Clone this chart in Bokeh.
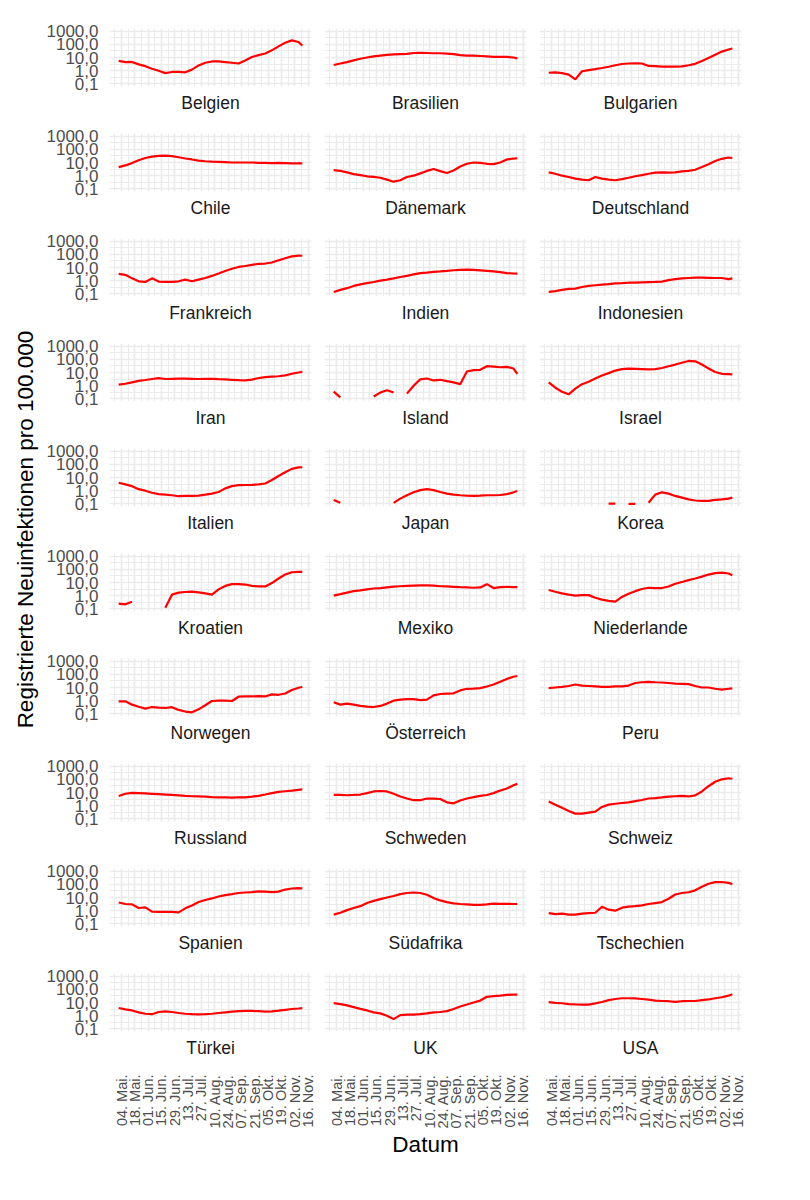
import math
import pandas as pd
from bokeh.plotting import figure
from bokeh.layouts import row, column
from bokeh.models import Range1d, FixedTicker, Grid, LinearAxis, LogAxis, Title, AllLabels
from bokeh.core.properties import value
from bokeh.embed import file_html
from bokeh.resources import INLINE

nan = float("nan")

# weekly samples (daily new cases per 100,000)
dates = pd.date_range("2020-05-01", "2020-11-06", freq="7D").append(pd.DatetimeIndex(["2020-11-10"]))
tick_dates = pd.date_range("2020-05-04", "2020-11-16", freq="14D")
tick_labels = ["04. Mai.", "18. Mai.", "01. Jun.", "15. Jun.", "29. Jun.", "13. Jul.", "27. Jul.",
               "10. Aug.", "24. Aug.", "07. Sep.", "21. Sep.", "05. Okt.", "19. Okt.", "02. Nov.", "16. Nov."]
minor_dates = pd.date_range("2020-04-27", "2020-11-23", freq="14D")
y_ticks = [0.1, 1, 10, 100, 1000]
y_tick_labels = ["0,1", "1,0", "10,0", "100,0", "1000,0"]
y_minor = [10 ** -0.5, 10 ** 0.5, 10 ** 1.5, 10 ** 2.5]

countries = ["Belgien", "Brasilien", "Bulgarien", "Chile", "Dänemark", "Deutschland",
             "Frankreich", "Indien", "Indonesien", "Iran", "Island", "Israel",
             "Italien", "Japan", "Korea", "Kroatien", "Mexiko", "Niederlande",
             "Norwegen", "Österreich", "Peru", "Russland", "Schweden", "Schweiz",
             "Spanien", "Südafrika", "Tschechien", "Türkei", "UK", "USA"]

belgien = [5.5, 4.5, 4.6, 3.0, 2.2, 1.4, 1.0, 0.65, 0.8, 0.8, 0.75, 1.2, 2.5, 4.0, 5.0, 5.0, 4.5, 4.0, 3.5, 6.0, 11, 15, 20, 35, 70, 130, 200, 150, 80]
brasilien = [2.7, 3.5, 4.5, 6, 8, 10, 12, 14, 16, 17, 18, 19, 22, 23, 22, 21, 21, 20, 18, 15, 14, 14, 13, 12, 11, 11, 11, 10, 8.5]
bulgarien = [0.7, 0.75, 0.65, 0.5, 0.22, 0.9, 1.1, 1.3, 1.6, 2.0, 2.6, 3.2, 3.5, 3.6, 3.5, 2.3, 2.2, 2.0, 2.0, 2.0, 2.1, 2.6, 3.3, 5.5, 9, 16, 28, 40, 48]
chile = [4.5, 6, 9, 15, 22, 28, 32, 33, 30, 25, 20, 17, 14, 12.5, 11.5, 11, 10.5, 10, 10, 10, 10, 9.5, 9.5, 9, 9.5, 9, 8.5, 8.5, 8.5]
daenemark = [2.6, 2.3, 1.8, 1.3, 1.1, 0.9, 0.8, 0.7, 0.5, 0.35, 0.45, 0.8, 1.0, 1.5, 2.3, 3.2, 2.2, 1.6, 2.5, 5, 8, 10, 9.5, 8, 7.5, 10, 17, 20, 21]
deutschland = [1.8, 1.4, 1.0, 0.8, 0.6, 0.5, 0.45, 0.8, 0.6, 0.5, 0.45, 0.55, 0.7, 0.9, 1.1, 1.4, 1.7, 1.8, 1.7, 1.8, 2.1, 2.3, 2.8, 4.5, 7.5, 13, 19, 24, 22]
frankreich = [3.3, 2.8, 1.5, 0.9, 0.8, 1.5, 0.85, 0.8, 0.8, 0.9, 1.2, 0.9, 1.2, 1.6, 2.3, 3.5, 5.5, 8, 11, 13, 16, 19, 20, 24, 35, 50, 70, 80, 78]
indien = [0.14, 0.2, 0.27, 0.4, 0.52, 0.65, 0.8, 1.0, 1.2, 1.5, 1.9, 2.3, 3.0, 3.7, 4.1, 4.6, 5.0, 5.5, 6.2, 6.7, 6.8, 6.5, 6.0, 5.5, 5.0, 4.4, 3.8, 3.5, 3.4]
indonesien = [0.14, 0.16, 0.2, 0.24, 0.25, 0.33, 0.4, 0.45, 0.5, 0.55, 0.62, 0.65, 0.7, 0.72, 0.75, 0.78, 0.8, 0.85, 1.1, 1.3, 1.5, 1.6, 1.7, 1.7, 1.65, 1.6, 1.6, 1.3, 1.5]
iran = [1.2, 1.4, 1.8, 2.3, 2.7, 3.2, 3.7, 3.2, 3.3, 3.4, 3.4, 3.3, 3.2, 3.3, 3.3, 3.1, 3.0, 2.8, 2.6, 2.5, 2.9, 3.8, 4.4, 4.8, 5.2, 6, 8, 10, 11]
island = [0.35, 0.13, nan, nan, nan, nan, 0.15, 0.3, 0.45, 0.3, nan, 0.25, 1.0, 3.0, 3.5, 2.5, 2.8, 2.2, 1.8, 1.3, 12, 15, 16, 30, 28, 25, 27, 20, 8]
israel = [1.8, 0.7, 0.35, 0.22, 0.6, 1.3, 2.0, 3.5, 6, 9, 14, 18, 20, 19, 18, 17, 18, 22, 30, 40, 55, 75, 70, 40, 20, 11, 8, 7.5, 7.2]
italien = [4, 3, 2.2, 1.3, 1.0, 0.7, 0.55, 0.5, 0.45, 0.38, 0.4, 0.4, 0.42, 0.5, 0.6, 0.8, 1.5, 2.2, 2.6, 2.7, 2.8, 3.0, 3.5, 6.5, 13, 25, 45, 58, 60]
japan = [0.2, 0.12, nan, nan, nan, nan, nan, nan, nan, 0.12, 0.25, 0.45, 0.75, 1.1, 1.3, 1.1, 0.8, 0.6, 0.5, 0.45, 0.42, 0.4, 0.42, 0.45, 0.45, 0.47, 0.55, 0.75, 0.95]
korea = [nan, nan, nan, nan, nan, nan, nan, nan, nan, 0.105, 0.105, nan, 0.1, 0.1, nan, 0.12, 0.5, 0.75, 0.6, 0.4, 0.3, 0.22, 0.18, 0.17, 0.17, 0.2, 0.22, 0.25, 0.3]
kroatien = [0.25, 0.22, 0.35, nan, nan, nan, nan, 0.12, 1.2, 1.7, 1.9, 2.0, 1.8, 1.5, 1.2, 3, 5.5, 7.5, 7.5, 7, 5.5, 5, 5, 9, 20, 40, 60, 63, 63]
mexiko = [1.0, 1.3, 1.7, 2.2, 2.5, 3.0, 3.5, 3.8, 4.3, 4.8, 5.2, 5.5, 5.8, 6.0, 6.0, 5.8, 5.2, 5.0, 4.7, 4.4, 4.2, 4.0, 4.2, 7.5, 3.8, 4.5, 4.6, 4.5, 4.4]
niederlande = [2.7, 2.0, 1.5, 1.2, 1.0, 1.1, 1.1, 0.7, 0.5, 0.4, 0.35, 0.8, 1.4, 2.2, 3.2, 4.0, 3.8, 3.8, 5, 8, 11, 15, 20, 28, 40, 52, 56, 48, 35]
norwegen = [0.9, 0.9, 0.5, 0.35, 0.25, 0.33, 0.3, 0.28, 0.32, 0.2, 0.15, 0.13, 0.22, 0.45, 0.95, 1.0, 1.0, 0.95, 2.0, 2.1, 2.1, 2.2, 2.1, 3.0, 2.8, 3.5, 6.5, 9.5, 11]
oesterreich = [0.75, 0.5, 0.6, 0.5, 0.4, 0.35, 0.33, 0.4, 0.6, 1.0, 1.2, 1.3, 1.3, 1.1, 1.2, 2.5, 3.2, 3.4, 3.6, 6, 8, 8.2, 9, 12, 17, 27, 45, 65, 75]
peru = [9, 10, 11, 13, 17, 14, 13, 12, 11, 11, 12, 12, 14, 22, 25, 27, 25, 24, 22, 20, 19, 18, 13, 10, 10, 8, 7, 8, 8.5]
russland = [5.5, 8, 9.5, 9, 8.5, 8, 7.5, 7, 6.5, 6, 5.5, 5.2, 5, 4.8, 4.5, 4.3, 4.2, 4.1, 4.2, 4.3, 4.8, 5.6, 7, 9, 11, 12.5, 14, 16, 17]
schweden = [6.5, 6.5, 6.2, 6.5, 7, 9, 12, 13, 12, 8, 5, 3.5, 2.6, 2.6, 3.5, 3.4, 3.2, 1.8, 1.5, 2.5, 3.5, 4.5, 5.5, 6.5, 9, 14, 20, 35, 45]
schweiz = [2.1, 1.2, 0.7, 0.4, 0.25, 0.25, 0.3, 0.35, 0.8, 1.2, 1.4, 1.6, 1.8, 2.2, 2.7, 3.5, 3.8, 4.2, 4.8, 5.2, 5.5, 5, 6, 12, 30, 65, 100, 120, 110]
spanien = [4.2, 3.2, 3.0, 1.6, 1.8, 0.85, 0.8, 0.8, 0.8, 0.75, 1.5, 2.5, 4.5, 6.5, 8.5, 12, 15, 18, 22, 24, 26, 29, 28, 26, 28, 40, 48, 52, 50]
suedafrika = [0.5, 0.7, 1.1, 1.6, 2.2, 3.8, 5.5, 7.5, 10, 13, 18, 22, 24, 22, 16, 9, 6, 4.5, 3.6, 3.2, 3, 2.8, 2.8, 3.0, 3.4, 3.3, 3.3, 3.2, 3.2]
tschechien = [0.65, 0.55, 0.6, 0.5, 0.5, 0.6, 0.65, 0.7, 2.0, 1.2, 1.0, 1.7, 2.0, 2.2, 2.5, 3.2, 3.8, 4.5, 8, 17, 22, 25, 35, 65, 110, 145, 150, 130, 100]
tuerkei = [3.8, 3.0, 2.5, 1.8, 1.4, 1.3, 1.9, 2.1, 1.9, 1.6, 1.4, 1.3, 1.25, 1.3, 1.4, 1.6, 1.8, 2.0, 2.2, 2.3, 2.3, 2.2, 2.0, 2.1, 2.4, 2.8, 3.2, 3.5, 3.7]
uk = [9, 7.5, 6, 4.5, 3.3, 2.5, 1.8, 1.5, 1.0, 0.55, 1.1, 1.2, 1.2, 1.3, 1.5, 1.8, 1.9, 2.2, 3.2, 5, 7, 10, 14, 27, 30, 33, 38, 40, 40]
usa = [10.5, 9.5, 8.8, 7.5, 7.2, 7, 7, 8.5, 11, 15, 18.5, 21, 21, 20.5, 18.5, 16.5, 14, 13, 12.5, 11, 12.5, 13, 13, 15, 17, 21, 25, 33, 42]

series = [belgien, brasilien, bulgarien, chile, daenemark, deutschland,
          frankreich, indien, indonesien, iran, island, israel,
          italien, japan, korea, kroatien, mexiko, niederlande,
          norwegen, oesterreich, peru, russland, schweden, schweiz,
          spanien, suedafrika, tschechien, tuerkei, uk, usa]

y_title = "Registrierte Neuinfektionen pro 100.000"
x_title = "Datum"

# ---------------------------------------------------------------- styling
FONT = "Liberation Sans"
GRID = "#EBEBEB"
LINE = "#FF0000"
FW, FH = 202, 58
NCOL, NROW = 3, 10
RB = 8  # right border


def ms(idx):
    return [t.value / 1e6 for t in idx]


x_ms = ms(dates)
tick_ms = ms(tick_dates)
minor_ms = ms(minor_dates)
span = x_ms[-1] - x_ms[0]
xmin, xmax = x_ms[0] - 0.05 * span, x_ms[-1] + 0.05 * span
ylo, yhi = 10 ** (-1 - 0.2), 10 ** (3 + 0.2)

F = [round(27.5 + 105.1 * k) for k in range(NROW)]
S = [0] + [F[k] - 6 for k in range(1, NROW)]
heights = [S[k + 1] - S[k] for k in range(NROW - 1)] + [6 + FH + 150]
tops = [F[k] - S[k] for k in range(NROW)]
TOTAL_H = S[-1] + heights[-1]


def make_panel(name, vals, c, r):
    left = 69 if c == 0 else 13 - RB
    h, top = heights[r], tops[r]
    p = figure(width=left + FW + RB, height=h, x_range=Range1d(xmin, xmax), y_range=Range1d(ylo, yhi),
               y_axis_type="log", x_axis_location=None, y_axis_location=None,
               toolbar_location=None, output_backend="svg", title=None,
               min_border_left=left, min_border_right=RB, min_border_top=top,
               min_border_bottom=h - top - FH, outline_line_color=None,
               background_fill_color="white", border_fill_color="white")
    p.grid.visible = False
    p.add_layout(Grid(dimension=0, ticker=FixedTicker(ticks=tick_ms, minor_ticks=minor_ms),
                      grid_line_color=GRID, grid_line_width=1.7,
                      minor_grid_line_color=GRID, minor_grid_line_width=1))
    p.add_layout(Grid(dimension=1, ticker=FixedTicker(ticks=y_ticks, minor_ticks=y_minor),
                      grid_line_color=GRID, grid_line_width=1.7,
                      minor_grid_line_color=GRID, minor_grid_line_width=1))
    p.line(x=x_ms, y=vals, line_color=LINE, line_width=2.2)
    if c == 0:
        ya = LogAxis(ticker=FixedTicker(ticks=y_ticks),
                     major_label_overrides=dict(zip(y_ticks, y_tick_labels)),
                     major_label_policy=AllLabels(),
                     axis_line_color=None, major_tick_line_color=None, minor_tick_line_color=None,
                     major_tick_out=0, major_tick_in=0, minor_tick_out=0, minor_tick_in=0,
                     major_label_standoff=11, major_label_text_font_size="17px",
                     major_label_text_color="#4D4D4D", major_label_text_font=FONT)
        p.add_layout(ya, "left")
    p.add_layout(Title(text=name, align="center", text_font_size="17.5px", text_font_style="normal",
                       text_color="#1A1A1A", text_font=FONT, standoff=8), "below")
    if r == NROW - 1:
        xa = LinearAxis(ticker=FixedTicker(ticks=tick_ms),
                        major_label_overrides=dict(zip(tick_ms, tick_labels)),
                        major_label_policy=AllLabels(),
                        major_label_orientation=math.pi / 2,
                        axis_line_color=None, major_tick_line_color=None, minor_tick_line_color=None,
                        major_tick_out=0, major_tick_in=0, minor_tick_out=0, minor_tick_in=0,
                        major_label_standoff=13, major_label_text_font_size="14.5px",
                        major_label_text_color="#4D4D4D", major_label_text_font=FONT)
        p.add_layout(xa, "below")
        if c == 1:
            p.add_layout(Title(text=x_title, align="center", text_font_size="22.5px",
                               text_font_style="normal", text_color="black", text_font=FONT,
                               standoff=-3), "below")
    return p


rows = []
for r in range(NROW):
    figs = [make_panel(countries[r * NCOL + c], series[r * NCOL + c], c, r) for c in range(NCOL)]
    rows.append(row(*figs))

ylab = figure(width=40, height=TOTAL_H, x_range=Range1d(0, 40), y_range=Range1d(0, TOTAL_H),
              x_axis_location=None, y_axis_location=None, toolbar_location=None,
              output_backend="svg", title=None, min_border=0, outline_line_color=None,
              background_fill_color="white", border_fill_color="white")
ylab.grid.visible = False
ylab.text(x=[25], y=[TOTAL_H - 529], text=[y_title], angle=math.pi / 2, text_align="center",
          text_baseline="middle", text_font_size="22.5px", text_color="black",
          text_font=value(FONT))

layout = row(ylab, column(*rows))
open("out.html", "w").write(file_html(layout, INLINE))
